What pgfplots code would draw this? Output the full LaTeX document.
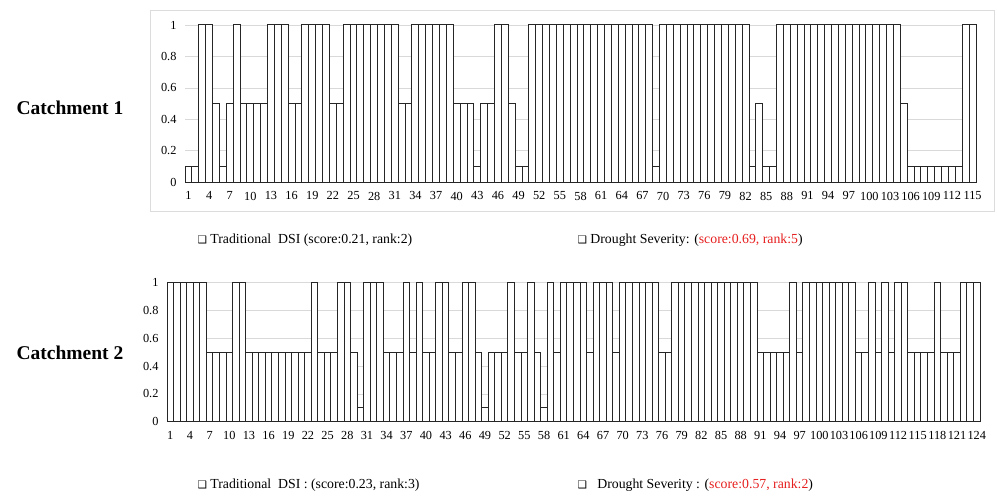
\documentclass[border=0pt]{standalone}
\usepackage{pgfplots}
\pgfplotsset{compat=1.18}
\usepackage{fontspec}
\setmainfont{Liberation Serif}
\newfontfamily\symfont{DejaVu Sans}
\definecolor{gridgray}{RGB}{217,217,217}
\definecolor{framegray}{RGB}{220,220,220}
\definecolor{scorered}{RGB}{230,30,30}
\pgfplotsset{
  catch/.style={
    scale only axis,
    ymin=0, ymax=1,
    ytick={0,0.2,0.4,0.6,0.8,1},
    ymajorgrids,
    grid style={gridgray, line width=0.8pt},
    axis line style={draw=none},
    major tick length=0pt,
    tick label style={font=\fontsize{12.3}{14}\selectfont},
    /pgf/number format/assume math mode=true,
    xticklabel style={yshift=-6pt},
    yticklabel style={xshift=-5pt},
    ybar, bar width=1,
    clip=false,
  },
  bars/.style={fill=white, draw=black!85, line width=1pt}
}
\newcommand{\sq}{{\symfont\fontsize{10.5}{11}\selectfont ❑}}
\begin{document}
\begin{tikzpicture}
\path[use as bounding box] (0pt,0pt) rectangle (997pt,499pt);
\draw[framegray, line width=0.8pt] (150pt,489pt) rectangle (994pt,288pt);
\node[font=\fontsize{19.5}{22}\selectfont\bfseries] at (70pt,391pt) {Catchment 1};
\node[font=\fontsize{19.5}{22}\selectfont\bfseries] at (70pt,146pt) {Catchment 2};
\begin{axis}[catch, at={(185pt,316.7pt)}, anchor=south west,
  width=791pt, height=157.3pt, xmin=0.5, xmax=115.5, xtick={1,4,...,115}]
\addplot[bars] coordinates {
(1,0.1)(2,0.1)(3,1)(4,1)(5,0.5)(6,0.1)(7,0.5)(8,1)(9,0.5)(10,0.5)
(11,0.5)(12,0.5)(13,1)(14,1)(15,1)(16,0.5)(17,0.5)(18,1)(19,1)(20,1)
(21,1)(22,0.5)(23,0.5)(24,1)(25,1)(26,1)(27,1)(28,1)(29,1)(30,1)
(31,1)(32,0.5)(33,0.5)(34,1)(35,1)(36,1)(37,1)(38,1)(39,1)(40,0.5)
(41,0.5)(42,0.5)(43,0.1)(44,0.5)(45,0.5)(46,1)(47,1)(48,0.5)(49,0.1)(50,0.1)
(51,1)(52,1)(53,1)(54,1)(55,1)(56,1)(57,1)(58,1)(59,1)(60,1)
(61,1)(62,1)(63,1)(64,1)(65,1)(66,1)(67,1)(68,1)(69,0.1)(70,1)
(71,1)(72,1)(73,1)(74,1)(75,1)(76,1)(77,1)(78,1)(79,1)(80,1)
(81,1)(82,1)(83,0.1)(84,0.5)(85,0.1)(86,0.1)(87,1)(88,1)(89,1)(90,1)
(91,1)(92,1)(93,1)(94,1)(95,1)(96,1)(97,1)(98,1)(99,1)(100,1)
(101,1)(102,1)(103,1)(104,1)(105,0.5)(106,0.1)(107,0.1)(108,0.1)(109,0.1)(110,0.1)
(111,0.1)(112,0.1)(113,0.1)(114,1)(115,1)
};
\end{axis}
\begin{axis}[catch, at={(167pt,77.3pt)}, anchor=south west,
  width=813pt, height=139pt, xmin=0.5, xmax=124.5, xtick={1,4,...,124}]
\addplot[bars] coordinates {
(1,1)(2,1)(3,1)(4,1)(5,1)(6,1)(7,0.5)(8,0.5)(9,0.5)(10,0.5)
(11,1)(12,1)(13,0.5)(14,0.5)(15,0.5)(16,0.5)(17,0.5)(18,0.5)(19,0.5)(20,0.5)
(21,0.5)(22,0.5)(23,1)(24,0.5)(25,0.5)(26,0.5)(27,1)(28,1)(29,0.5)(30,0.1)
(31,1)(32,1)(33,1)(34,0.5)(35,0.5)(36,0.5)(37,1)(38,0.5)(39,1)(40,0.5)
(41,0.5)(42,1)(43,1)(44,0.5)(45,0.5)(46,1)(47,1)(48,0.5)(49,0.1)(50,0.5)
(51,0.5)(52,0.5)(53,1)(54,0.5)(55,0.5)(56,1)(57,0.5)(58,0.1)(59,1)(60,0.5)
(61,1)(62,1)(63,1)(64,1)(65,0.5)(66,1)(67,1)(68,1)(69,0.5)(70,1)
(71,1)(72,1)(73,1)(74,1)(75,1)(76,0.5)(77,0.5)(78,1)(79,1)(80,1)
(81,1)(82,1)(83,1)(84,1)(85,1)(86,1)(87,1)(88,1)(89,1)(90,1)
(91,0.5)(92,0.5)(93,0.5)(94,0.5)(95,0.5)(96,1)(97,0.5)(98,1)(99,1)(100,1)
(101,1)(102,1)(103,1)(104,1)(105,1)(106,0.5)(107,0.5)(108,1)(109,0.5)(110,1)
(111,0.5)(112,1)(113,1)(114,0.5)(115,0.5)(116,0.5)(117,0.5)(118,1)(119,0.5)(120,0.5)
(121,0.5)(122,1)(123,1)(124,1)
};
\end{axis}
\node[anchor=west, font=\fontsize{13.8}{16}\selectfont] at (194pt,259pt) {\sq\ Traditional\ \ DSI (score:0.21, rank:2)};
\node[anchor=west, font=\fontsize{13.8}{16}\selectfont] at (574pt,259pt) {\sq\ Drought Severity: (\textcolor{scorered}{score:0.69, rank:5})};
\node[anchor=west, font=\fontsize{13.8}{16}\selectfont] at (194pt,14pt) {\sq\ Traditional\ \ DSI : (score:0.23, rank:3)};
\node[anchor=west, font=\fontsize{13.8}{16}\selectfont] at (574pt,14pt) {\sq\ \ \ Drought Severity : (\textcolor{scorered}{score:0.57, rank:2})};
\end{tikzpicture}
\end{document}
